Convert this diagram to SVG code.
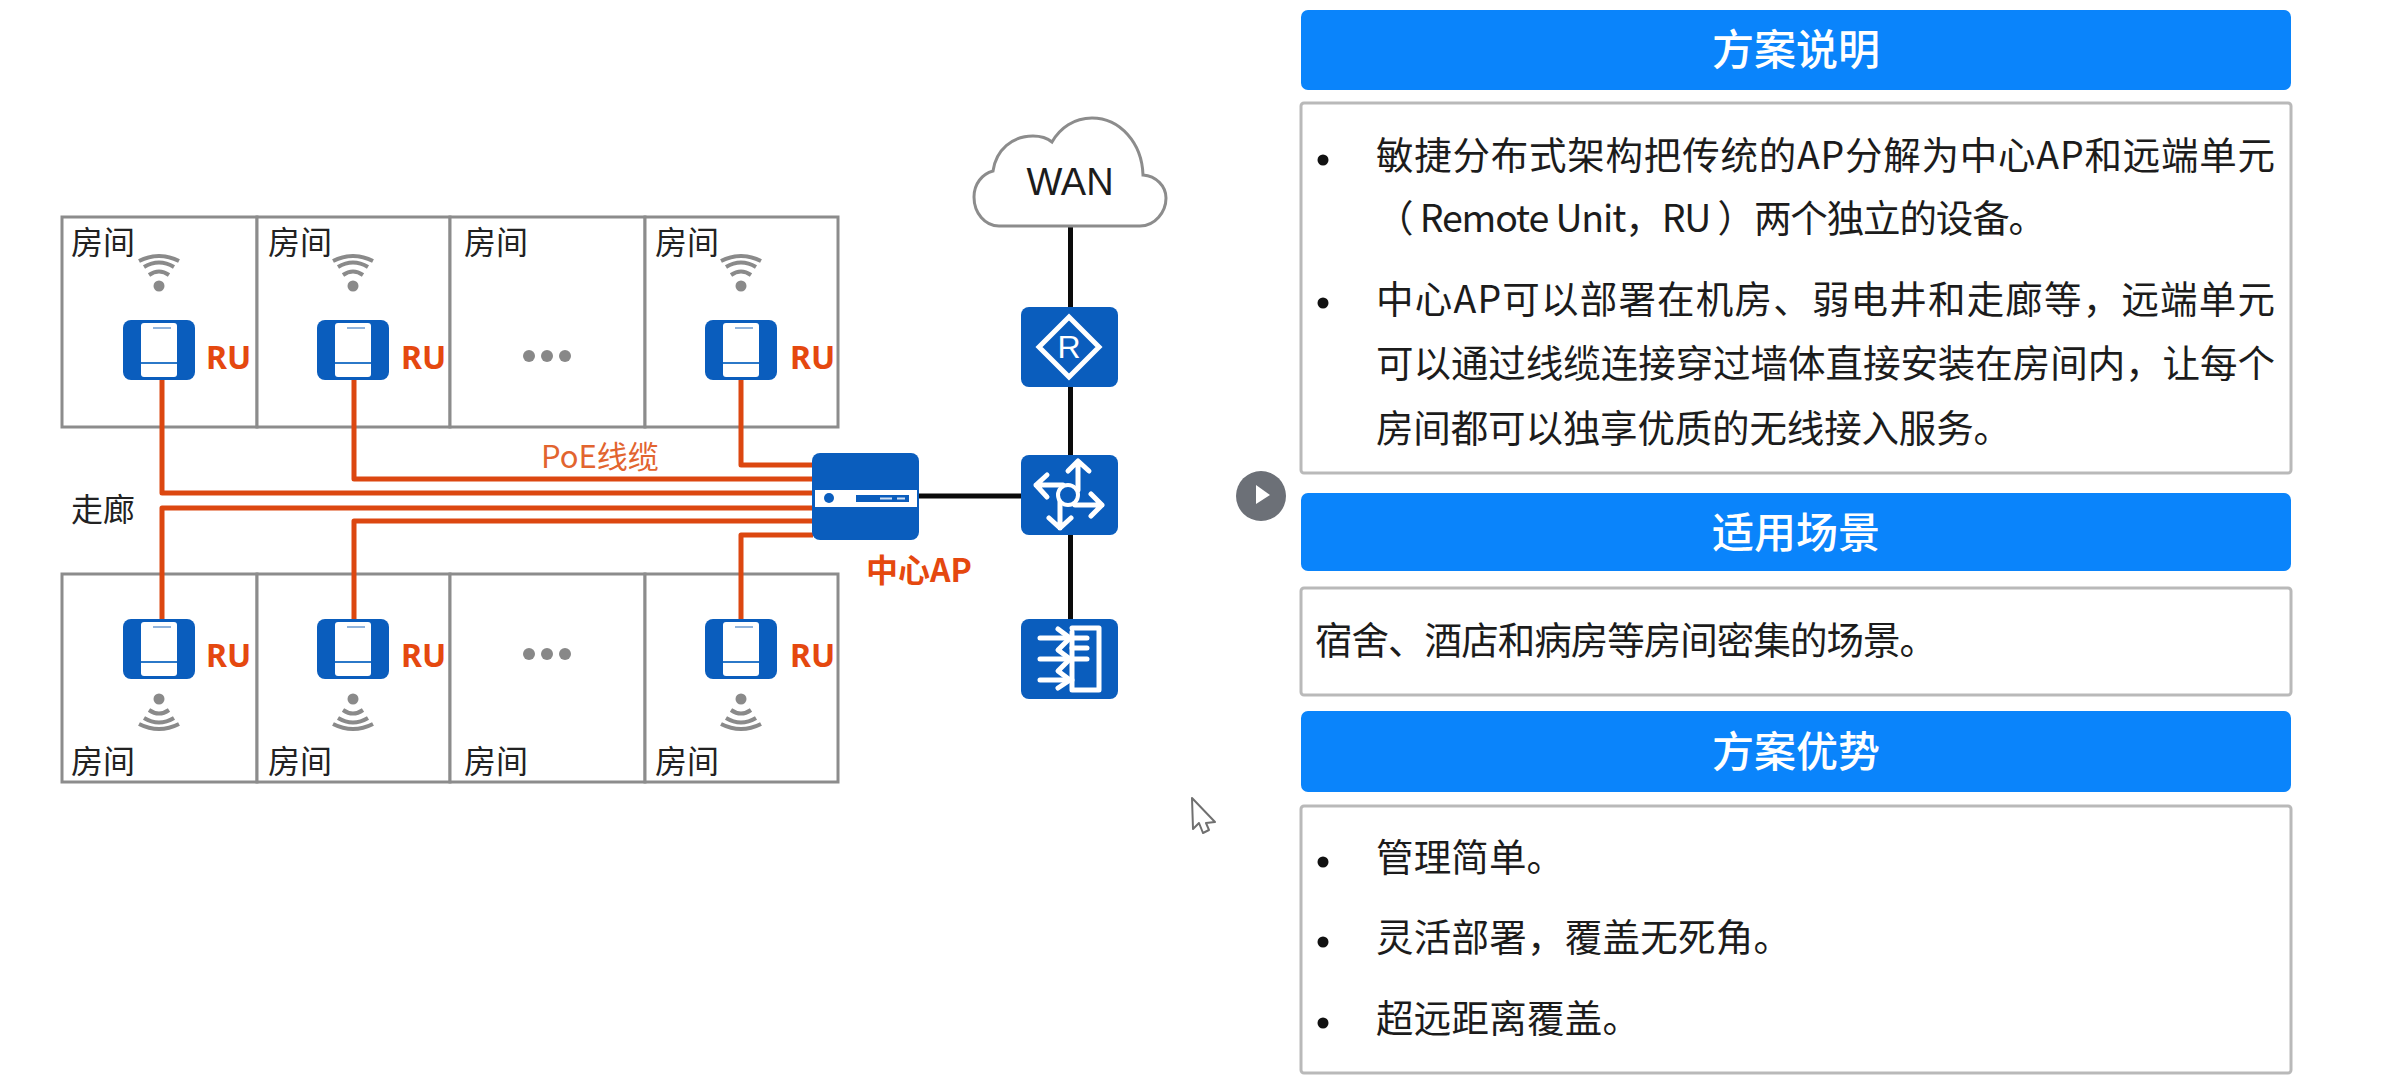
<svg xmlns="http://www.w3.org/2000/svg" width="2401" height="1084" viewBox="0 0 2401 1084">
<style>
text{font-family:"Noto Sans CJK SC","Noto Sans",sans-serif}
.room{fill:#fff;stroke:#8c8c8c;stroke-width:3}
.lbl{font-size:32px;fill:#222}
.ru{font-family:"Noto Sans","Noto Sans CJK SC",sans-serif;font-size:32px;font-weight:700;fill:#e5480f}
.poe{stroke:#dc4710;stroke-width:5;fill:none;stroke-linejoin:round}
.blk{stroke:#0a0a0a;stroke-width:5;fill:none}
.dev{fill:#0a5dbd}
.w{fill:none;stroke:#fff;stroke-width:5;stroke-linecap:round;stroke-linejoin:round}
.arc{fill:none;stroke:#8a8a8a;stroke-width:4}
.hdr{fill:#0a84fb}
.hdt{font-size:42px;font-weight:500;fill:#fff;text-anchor:middle}
.pnl{fill:#fff;stroke:#b9b9b9;stroke-width:3}
.t{font-size:37.500px;fill:#1c1c1c}
.dot{fill:#888}
</style>
<defs>
<g id="ruIcon">
<rect x="-36" y="-30" width="72" height="60" rx="8" class="dev"/>
<rect x="-18" y="-27" width="36" height="54" rx="3" fill="#fff"/>
<path d="M-18 13H18" stroke="#2b78c8" stroke-width="2"/>
<path d="M-6 -22H12" stroke="#6d9bd0" stroke-width="1.500"/>
</g>
<g id="wifiUp">
<circle cx="0" cy="0" r="5.500" fill="#8a8a8a"/>
<path class="arc" d="M-10 -11Q0 -18 10 -11M-15 -19Q0 -28 15 -19M-20 -25Q0 -35 20 -25"/>
</g>
<g id="wifiDown">
<circle cx="0" cy="0" r="5.500" fill="#8a8a8a"/>
<path class="arc" d="M-10 11Q0 18 10 11M-15 19Q0 28 15 19M-20 25Q0 35 20 25"/>
</g>
</defs>
<rect width="2401" height="1084" fill="#fff"/>

<g id="rooms-top">
<rect class="room" x="62" y="217" width="195" height="210"/>
<rect class="room" x="257" y="217" width="193" height="210"/>
<rect class="room" x="450" y="217" width="195" height="210"/>
<rect class="room" x="645" y="217" width="193" height="210"/>
<text class="lbl" x="71" y="254">房间</text>
<text class="lbl" x="268" y="254">房间</text>
<text class="lbl" x="464" y="254">房间</text>
<text class="lbl" x="655" y="254">房间</text>
<circle class="dot" cx="529" cy="356" r="6"/><circle class="dot" cx="547" cy="356" r="6"/><circle class="dot" cx="565" cy="356" r="6"/>
</g>
<g id="rooms-bottom">
<rect class="room" x="62" y="574" width="195" height="208"/>
<rect class="room" x="257" y="574" width="193" height="208"/>
<rect class="room" x="450" y="574" width="195" height="208"/>
<rect class="room" x="645" y="574" width="193" height="208"/>
<text class="lbl" x="71" y="773">房间</text>
<text class="lbl" x="268" y="773">房间</text>
<text class="lbl" x="464" y="773">房间</text>
<text class="lbl" x="655" y="773">房间</text>
<circle class="dot" cx="529" cy="654" r="6"/><circle class="dot" cx="547" cy="654" r="6"/><circle class="dot" cx="565" cy="654" r="6"/>
</g>

<g id="connectors">
<path class="poe" d="M162 380V493H813"/>
<path class="poe" d="M354 380V479H813"/>
<path class="poe" d="M741 380V465H813"/>
<path class="poe" d="M162 619V508H813"/>
<path class="poe" d="M354 619V521H813"/>
<path class="poe" d="M741 619V535H813"/>
<path class="blk" d="M1070.500 226V307M1070.500 387V455M1070.500 535V619M919 496H1021"/>
</g>

<g id="ru-t1"><use href="#ruIcon" x="159" y="350"/><use href="#wifiUp" x="159" y="286"/><text class="ru" x="206" y="369">RU</text></g>
<g id="ru-t2"><use href="#ruIcon" x="353" y="350"/><use href="#wifiUp" x="353" y="286"/><text class="ru" x="401" y="369">RU</text></g>
<g id="ru-t4"><use href="#ruIcon" x="741" y="350"/><use href="#wifiUp" x="741" y="286"/><text class="ru" x="790" y="369">RU</text></g>
<g id="ru-b1"><use href="#ruIcon" x="159" y="649"/><use href="#wifiDown" x="159" y="699"/><text class="ru" x="206" y="667">RU</text></g>
<g id="ru-b2"><use href="#ruIcon" x="353" y="649"/><use href="#wifiDown" x="353" y="699"/><text class="ru" x="401" y="667">RU</text></g>
<g id="ru-b4"><use href="#ruIcon" x="741" y="649"/><use href="#wifiDown" x="741" y="699"/><text class="ru" x="790" y="667">RU</text></g>

<text class="lbl" x="71" y="521">走廊</text>
<text x="541" y="468" font-size="31" fill="#e2642f">PoE线缆</text>

<g id="ap">
<rect class="dev" x="812" y="453" width="107" height="87" rx="8"/>
<rect x="815" y="490" width="102" height="17" fill="#fff"/>
<circle class="dev" cx="829" cy="498" r="5"/>
<rect class="dev" x="856" y="495" width="53" height="7"/>
<path d="M880 498.500H892M897 498.500H905" stroke="#cfe0f4" stroke-width="2"/>
<text x="866" y="582" font-size="32" font-weight="700" fill="#e5480f">中心AP</text>
</g>

<g id="wan">
<path d="M999 226H1140C1155 226 1166 212 1166 198C1166 186 1156 176 1143 175C1142 143 1120 118 1092 118C1074 118 1060 128 1052 142C1046 137 1040 136 1033 136C1012 136 996 150 993 171C982 174 974 184 974 197C974 213 985 226 999 226Z" fill="#fff" stroke="#8c8c8c" stroke-width="3"/>
<text x="1070" y="195" font-size="38" text-anchor="middle" fill="#1c1c1c" style="font-family:'Liberation Sans',sans-serif">WAN</text>
</g>

<g id="router">
<rect class="dev" x="1021" y="307" width="97" height="80" rx="8"/>
<path d="M1069 317L1099 347L1069 377L1039 347Z" fill="none" stroke="#fff" stroke-width="5"/>
<text x="1069" y="358" font-size="32" text-anchor="middle" fill="#fff" style="font-family:'Liberation Sans',sans-serif">R</text>
</g>

<g id="switch">
<rect class="dev" x="1021" y="455" width="97" height="80" rx="8"/>
<path class="w" d="M1078 462V490M1068 471L1078 461L1089 471"/>
<path class="w" d="M1036 485H1063M1047 475L1036 485L1047 497"/>
<path class="w" d="M1075 505H1102M1091 494L1102 505L1091 516"/>
<path class="w" d="M1060 500V528M1049 518L1060 528L1071 518"/>
<circle cx="1068" cy="495" r="10" fill="#0a5dbd" stroke="#fff" stroke-width="4"/>
</g>

<g id="firewall">
<rect class="dev" x="1021" y="619" width="97" height="80" rx="8"/>
<path class="w" d="M1072 632V690H1099V628H1072"/>
<path class="w" d="M1040 638H1087M1072 648H1087M1040 659H1087M1040 680H1072"/>
<path class="w" d="M1058 629L1070 638L1058 650L1070 659L1058 671L1070 680L1058 688"/>
</g>

<g id="play">
<circle cx="1261" cy="496" r="25" fill="#6c7077"/>
<path d="M1256 485L1270 495L1256 504Z" fill="#fff"/>
</g>
<g id="cursor">
<path d="M1192 798L1215 822L1206 823L1209 830L1203 833L1199 823L1193 829Z" fill="#fff" stroke="#707070" stroke-width="2" stroke-linejoin="round"/>
</g>

<g id="panel-1">
<rect class="hdr" x="1301" y="10" width="990" height="80" rx="7"/>
<text class="hdt" x="1796" y="65">方案说明</text>
<rect class="pnl" x="1301" y="103" width="990" height="370" rx="3"/>
<circle cx="1323" cy="160" r="5.500" fill="#111"/>
<circle cx="1323" cy="303" r="5.500" fill="#111"/>
<text class="t" x="1376" y="169" textLength="899">敏捷分布式架构把传统的AP分解为中心AP和远端单元</text>
<text class="t" x="1376" y="232" textLength="670">（ Remote Unit，RU ）两个独立的设备。</text>
<text class="t" x="1376" y="313" textLength="899">中心AP可以部署在机房、弱电井和走廊等，远端单元</text>
<text class="t" x="1376" y="377" textLength="899">可以通过线缆连接穿过墙体直接安装在房间内，让每个</text>
<text class="t" x="1376" y="442" textLength="635">房间都可以独享优质的无线接入服务。</text>
</g>
<g id="panel-2">
<rect class="hdr" x="1301" y="493" width="990" height="78" rx="7"/>
<text class="hdt" x="1796" y="548">适用场景</text>
<rect class="pnl" x="1301" y="588" width="990" height="107" rx="3"/>
<text class="t" x="1315" y="654" textLength="622">宿舍、酒店和病房等房间密集的场景。</text>
</g>
<g id="panel-3">
<rect class="hdr" x="1301" y="711" width="990" height="81" rx="7"/>
<text class="hdt" x="1796" y="767">方案优势</text>
<rect class="pnl" x="1301" y="806" width="990" height="267" rx="3"/>
<circle cx="1323" cy="862" r="5.500" fill="#111"/>
<circle cx="1323" cy="942" r="5.500" fill="#111"/>
<circle cx="1323" cy="1023" r="5.500" fill="#111"/>
<text class="t" x="1376" y="871" textLength="188">管理简单。</text>
<text class="t" x="1376" y="951" textLength="415">灵活部署，覆盖无死角。</text>
<text class="t" x="1376" y="1032" textLength="264">超远距离覆盖。</text>
</g>
</svg>
